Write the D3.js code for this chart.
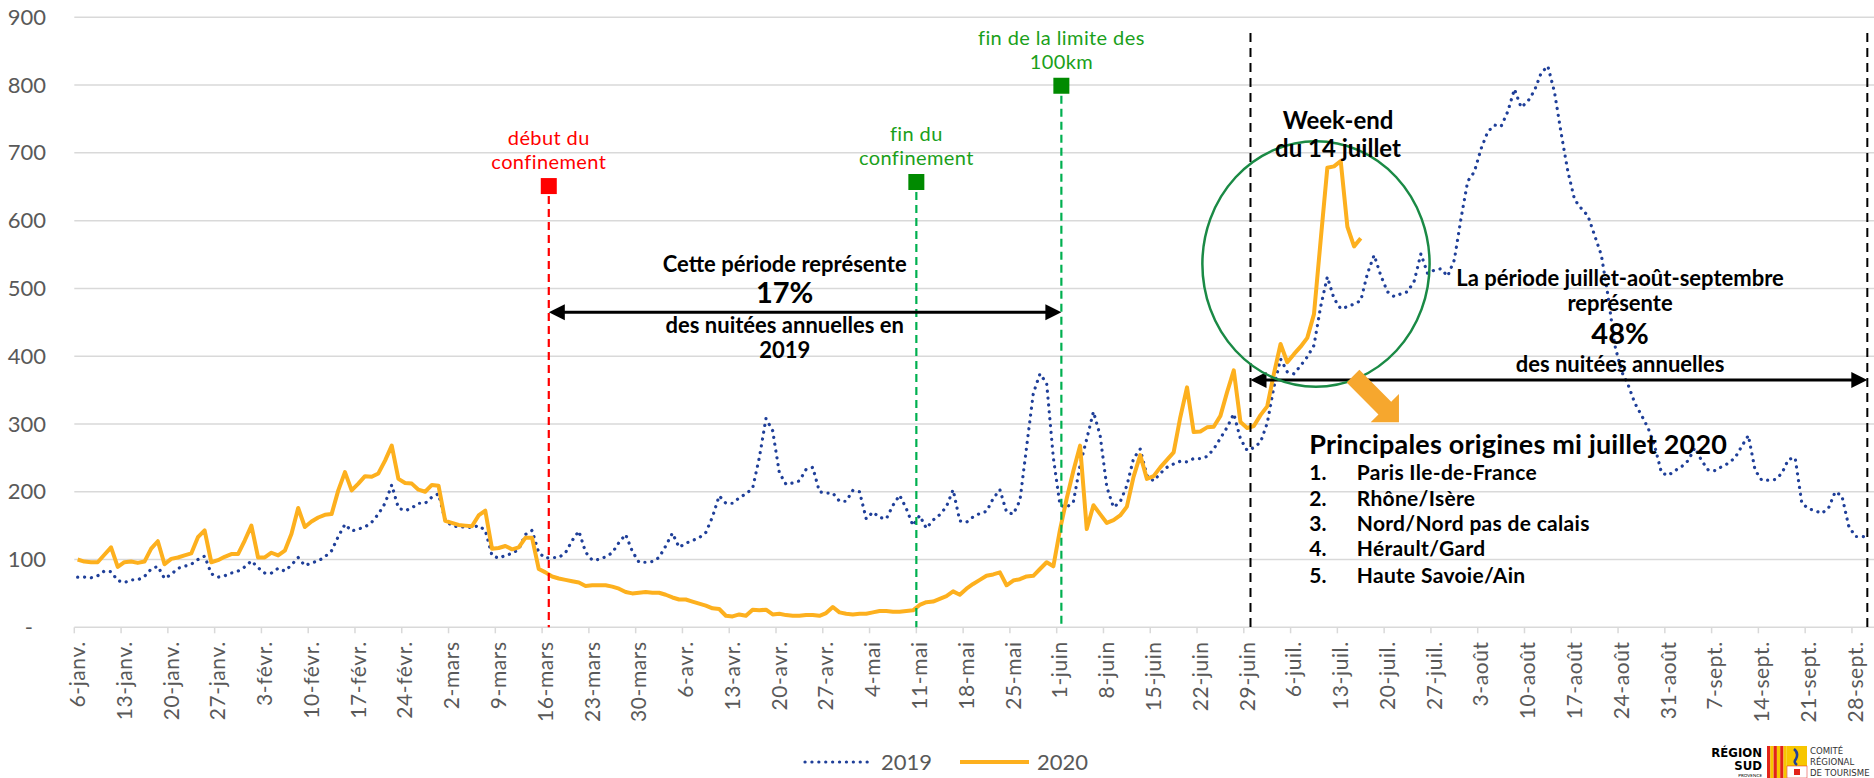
<!DOCTYPE html>
<html>
<head>
<meta charset="utf-8">
<script src="https://cdn.jsdelivr.net/npm/d3@7"></script>
<style>
  body { margin: 0; background: #fff; }
  svg text { font-family: Lato, "DejaVu Sans", sans-serif; }
</style>
</head>
<body>
<div id="graphique"></div>
<script>
// libellés hebdomadaires de l'axe des x (un tous les 7 jours, à partir du 6 janvier)
var semaines = ["6-janv.","13-janv.","20-janv.","27-janv.","3-févr.","10-févr.","17-févr.","24-févr.",
  "2-mars","9-mars","16-mars","23-mars","30-mars","6-avr.","13-avr.","20-avr.","27-avr.",
  "4-mai","11-mai","18-mai","25-mai","1-juin","8-juin","15-juin","22-juin","29-juin",
  "6-juil.","13-juil.","20-juil.","27-juil.","3-août","10-août","17-août","24-août","31-août",
  "7-sept.","14-sept.","21-sept.","28-sept."];

var graduationsY = [0, 100, 200, 300, 400, 500, 600, 700, 800, 900];

// nuitées journalières (en milliers)
var nuitees2019 = [
  74, 74, 73, 76, 83, 82, 69, 66, 70, 70,
  75, 86, 90, 72, 78, 87, 90, 93, 100, 105,
  79, 74, 76, 80, 83, 89, 98, 88, 80, 80,
  87, 83, 92, 103, 91, 95, 98, 104, 113, 134,
  152, 142, 145, 148, 155, 167, 183, 210, 176, 172,
  176, 183, 183, 192, 197, 158, 150, 148, 148, 147,
  150, 143, 106, 102, 106, 109, 115, 137, 143, 110,
  102, 103, 103, 110, 128, 142, 111, 99, 100, 104,
  110, 125, 137, 112, 96, 96, 97, 103, 120, 139,
  118, 124, 128, 132, 140, 163, 194, 183, 183, 191,
  197, 205, 250, 308, 290, 228, 211, 213, 216, 233,
  236, 200, 198, 198, 186, 186, 202, 200, 160, 170,
  162, 160, 180, 195, 175, 150, 165, 146, 158, 166,
  178, 203, 157, 155, 163, 168, 171, 190, 203, 170,
  167, 187, 266, 345, 374, 360, 250, 180, 177, 185,
  239, 278, 318, 283, 207, 177, 185, 209, 249, 263,
  224, 216, 227, 236, 241, 245, 244, 249, 249, 252,
  263, 279, 295, 315, 278, 261, 265, 273, 301, 354,
  396, 377, 374, 386, 399, 416, 473, 517, 485, 470,
  473, 477, 482, 522, 549, 519, 495, 488, 492, 495,
  511, 551, 522, 527, 529, 518, 542, 603, 658, 672,
  706, 731, 741, 739, 761, 794, 767, 776, 792, 818,
  828, 789, 728, 672, 631, 618, 607, 578, 549, 489,
  417, 378, 358, 331, 313, 294, 267, 228, 224, 231,
  237, 246, 265, 246, 232, 231, 237, 242, 250, 267,
  283, 232, 217, 217, 218, 227, 248, 250, 183, 175,
  172, 168, 176, 200, 194, 150, 134, 134, 133
];

var nuitees2020 = [
  100, 97, 96, 96, 107, 118, 89, 96, 97, 95,
  97, 116, 127, 93, 101, 103, 106, 109, 133, 143,
  96, 99, 104, 108, 108, 128, 150, 103, 103, 110,
  106, 113, 138, 176, 148, 156, 162, 166, 167, 202,
  229, 202, 212, 223, 222, 227, 246, 268, 219, 213,
  212, 203, 200, 210, 209, 157, 154, 151, 150, 149,
  165, 172, 116, 117, 120, 115, 118, 132, 132, 86,
  81, 75, 72, 70, 68, 66, 61, 62, 62, 62,
  60, 57, 52, 50, 51, 52, 51, 51, 48, 44,
  41, 41, 38, 35, 32, 28, 27, 17, 16, 19,
  17, 26, 25, 26, 19, 20, 18, 17, 17, 18,
  18, 17, 21, 30, 22, 20, 19, 20, 20, 22,
  24, 24, 23, 23, 24, 25, 33, 37, 38, 42,
  46, 53, 48, 57, 64, 70, 76, 78, 81, 62,
  69, 71, 75, 76, 86, 96, 90, 144, 190, 231,
  268, 145, 180, 167, 154, 158, 165, 178, 222, 254,
  219, 223, 236, 247, 258, 310, 354, 288, 289, 295,
  296, 312, 347, 379, 303, 294, 297, 313, 326, 374,
  418, 391, 403, 414, 427, 462, 571, 678, 680, 688,
  591, 562, 574
];

var origines = ["Paris Ile-de-France", "Rhône/Isère", "Nord/Nord pas de calais", "Hérault/Gard", "Haute Savoie/Ain"];

var width = 1874;
var height = 778;
var nbJours = nuitees2019.length;
var gris = "#595959";

var svg = d3.select("#graphique")
  .append("svg")
    .attr("width", width)
    .attr("height", height);

// echelles
var x = d3.scaleBand()
  .domain(d3.range(nbJours))
  .range([74.3, 1872]);
var y = d3.scaleLinear()
  .domain([0, 900])
  .range([627.3, 17.3]);
var bw = x.bandwidth();
// position d'un jour (fractionnaire) sur l'axe, en limite de catégorie
function xJour(j) { return x.range()[0] + j * x.step(); }

// grille horizontale
svg.append("g")
  .selectAll("line")
  .data(graduationsY.slice(1))
  .enter().append("line")
    .attr("x1", x.range()[0]).attr("x2", width)
    .attr("y1", function(d){ return y(d); })
    .attr("y2", function(d){ return y(d); })
    .attr("stroke", "#d9d9d9")
    .attr("stroke-width", 1.5);

// axe y
var gy = svg.append("g")
  .attr("transform", "translate(46,0)")
  .call(d3.axisLeft(y).tickValues(graduationsY).tickSize(0).tickPadding(0)
    .tickFormat(function(d){ return d === 0 ? "-" : d; }));
gy.select(".domain").remove();
gy.selectAll("text")
  .attr("font-size", 22)
  .attr("fill", gris)
  .style("font-family", "Lato, sans-serif");
gy.selectAll(".tick").filter(function(d){ return d === 0; }).select("text").attr("x", -13);

// axe x
svg.append("line")
  .attr("x1", x.range()[0]).attr("x2", width)
  .attr("y1", y(0)).attr("y2", y(0))
  .attr("stroke", "#d9d9d9").attr("stroke-width", 1.5);

svg.append("g")
  .selectAll("line")
  .data(d3.range(0, nbJours, 7))
  .enter().append("line")
    .attr("x1", function(d){ return xJour(d); })
    .attr("x2", function(d){ return xJour(d); })
    .attr("y1", y(0)).attr("y2", y(0) + 6)
    .attr("stroke", "#d9d9d9").attr("stroke-width", 1.5);

var gx = svg.append("g")
  .attr("transform", "translate(0," + y(0) + ")")
  .call(d3.axisBottom(x).tickValues(d3.range(0, nbJours, 7)).tickSize(0)
    .tickFormat(function(d){ return semaines[d / 7]; }));
gx.select(".domain").remove();
gx.selectAll("text")
  .attr("transform", "rotate(-90)")
  .attr("text-anchor", "end")
  .attr("x", -14).attr("y", 0).attr("dy", "0.35em")
  .attr("font-size", 21)
  .attr("fill", gris)
  .style("font-family", "Lato, sans-serif")
  .style("letter-spacing", "0.6px");

// courbes
var ligne = d3.line()
  .x(function(d, i){ return x(i) + bw / 2; })
  .y(function(d){ return y(d); });

svg.append("path")
  .datum(nuitees2019)
  .attr("d", ligne)
  .attr("fill", "none")
  .attr("stroke", "#1f3f99")
  .attr("stroke-width", 3.2)
  .attr("stroke-linecap", "round")
  .attr("stroke-dasharray", "0.1 6.8");

svg.append("path")
  .datum(nuitees2020)
  .attr("d", ligne)
  .attr("fill", "none")
  .attr("stroke", "#fdb01e")
  .attr("stroke-width", 4)
  .attr("stroke-linejoin", "round");

// repères : début / fin du confinement, fin des 100km
var reperes = [
  { jour: 71, val: 651, couleur: "#ff0000", trait: "#ff0000", texte: "#ff0000", lignes: ["début du", "confinement"] },
  { jour: 126, val: 657, couleur: "#008a00", trait: "#00b050", texte: "#1aa01a", lignes: ["fin du", "confinement"] },
  { jour: 147.7, val: 799, couleur: "#008a00", trait: "#00b050", texte: "#1aa01a", lignes: ["fin de la limite des", "100km"] }
];

reperes.forEach(function(r){
  var cx = xJour(r.jour);
  var cy = y(r.val);
  svg.append("line")
    .attr("x1", cx).attr("x2", cx)
    .attr("y1", cy + 10).attr("y2", y(0))
    .attr("stroke", r.trait)
    .attr("stroke-width", 2.2)
    .attr("stroke-dasharray", "8 5");
  svg.append("rect")
    .attr("x", cx - 8).attr("y", cy - 8)
    .attr("width", 16).attr("height", 16)
    .attr("fill", r.couleur);
  r.lignes.forEach(function(t, i){
    svg.append("text")
      .attr("x", cx).attr("y", cy - 48 + i * 24)
      .attr("dy", "0.35em")
      .attr("text-anchor", "middle")
      .attr("font-size", 20)
      .attr("fill", r.texte)
      .style("letter-spacing", "0.4px")
      .text(t);
  });
});

// lignes pointillées noires (période juillet-septembre)
[176, 268.3].forEach(function(j){
  svg.append("line")
    .attr("x1", xJour(j)).attr("x2", xJour(j))
    .attr("y1", y(877)).attr("y2", y(0))
    .attr("stroke", "#000")
    .attr("stroke-width", 2)
    .attr("stroke-dasharray", "9 6");
});

// flèches doubles
function flecheDouble(j1, j2, val){
  var x1 = xJour(j1), x2 = xJour(j2), yy = y(val);
  svg.append("line")
    .attr("x1", x1 + 14).attr("x2", x2 - 14)
    .attr("y1", yy).attr("y2", yy)
    .attr("stroke", "#000").attr("stroke-width", 3);
  svg.append("path")
    .attr("d", "M" + x1 + "," + yy + "L" + (x1 + 16) + "," + (yy - 8) + "L" + (x1 + 16) + "," + (yy + 8) + "Z")
    .attr("fill", "#000");
  svg.append("path")
    .attr("d", "M" + x2 + "," + yy + "L" + (x2 - 16) + "," + (yy - 8) + "L" + (x2 - 16) + "," + (yy + 8) + "Z")
    .attr("fill", "#000");
}
flecheDouble(71, 147.7, 465);
flecheDouble(176, 268.3, 365);

function texteGras(j, val, t, taille, ancre){
  return svg.append("text")
    .attr("x", xJour(j)).attr("y", y(val))
    .attr("dy", "0.35em")
    .attr("text-anchor", ancre || "middle")
    .attr("font-size", taille)
    .attr("font-weight", 700)
    .attr("fill", "#000")
    .text(t);
}

texteGras(106.3, 536, "Cette période représente", 22);
texteGras(106.3, 493, "17%", 29);
texteGras(106.3, 446, "des nuitées annuelles en", 22);
texteGras(106.3, 409, "2019", 22);

texteGras(231.3, 515, "La période juillet-août-septembre", 22);
texteGras(231.3, 478.5, "représente", 22);
texteGras(231.3, 433, "48%", 29);
texteGras(231.3, 388, "des nuitées annuelles", 22);

// cercle du 14 juillet
svg.append("ellipse")
  .attr("cx", xJour(185.8)).attr("cy", y(536))
  .attr("rx", xJour(17) - xJour(0))
  .attr("ry", y(0) - y(181))
  .attr("fill", "none")
  .attr("stroke", "#1a8a45")
  .attr("stroke-width", 2.5);

texteGras(189.1, 748, "Week-end", 24);
texteGras(189.1, 707, "du 14 juillet", 24);

// grosse flèche orange
svg.append("path")
  .attr("transform", "translate(" + xJour(196.1) + "," + y(323.5) + ") rotate(45)")
  .attr("d", "M-45,-9L0,-9L0,-20L20,0L0,20L0,9L-45,9Z")
  .attr("fill", "#f6a72e");

// principales origines
texteGras(184.8, 269, "Principales origines mi juillet 2020", 27, "start")
  .style("letter-spacing", "0.2px");
var rangsY = [227.6, 189.4, 152.4, 115.5, 75.7];
origines.forEach(function(o, i){
  texteGras(184.8, rangsY[i], (i + 1) + ".", 21, "start");
  texteGras(191.9, rangsY[i], o, 21, "start").style("letter-spacing", "0.3px");
});

// légende
var leg = svg.append("g").attr("transform", "translate(0,762)");
leg.append("line")
  .attr("x1", 805).attr("x2", 874).attr("y1", 0).attr("y2", 0)
  .attr("stroke", "#1f3f99").attr("stroke-width", 3.2)
  .attr("stroke-linecap", "round").attr("stroke-dasharray", "0.1 6.8");
leg.append("text")
  .attr("x", 881).attr("dy", "0.35em")
  .attr("font-size", 22).attr("fill", gris)
  .text("2019");
leg.append("line")
  .attr("x1", 960).attr("x2", 1029).attr("y1", 0).attr("y2", 0)
  .attr("stroke", "#fdb01e").attr("stroke-width", 4);
leg.append("text")
  .attr("x", 1037).attr("dy", "0.35em")
  .attr("font-size", 22).attr("fill", gris)
  .text("2020");

// logo Région Sud / CRT
var logo = svg.append("g");
var etroite = "'DejaVu Sans Condensed', 'Liberation Sans Narrow', sans-serif";
logo.append("text").attr("x", 1762).attr("y", 757).attr("text-anchor", "end")
  .attr("font-size", 13).attr("font-weight", 700)
  .style("font-family", etroite)
  .text("RÉGION");
logo.append("text").attr("x", 1762).attr("y", 770).attr("text-anchor", "end")
  .attr("font-size", 13).attr("font-weight", 700)
  .style("font-family", etroite)
  .text("SUD");
logo.append("text").attr("x", 1762).attr("y", 777).attr("text-anchor", "end")
  .attr("font-size", 4.5)
  .text("PROVENCE");
d3.range(6).forEach(function(i){
  logo.append("rect")
    .attr("x", 1767 + i * 3.3).attr("y", 746)
    .attr("width", 3.3).attr("height", 32)
    .attr("fill", i % 2 ? "#f7c600" : "#e2231a");
});
logo.append("rect").attr("x", 1787).attr("y", 746).attr("width", 20).attr("height", 20).attr("fill", "#f7c600");
logo.append("path").attr("d", "M1794,749 q5,4 2,10 q-3,3 1,6").attr("stroke", "#1f3f99").attr("stroke-width", 2.5).attr("fill", "none");
logo.append("rect").attr("x", 1787).attr("y", 766).attr("width", 20).attr("height", 12).attr("fill", "#fff").attr("stroke", "#e2231a").attr("stroke-width", 0.5);
logo.append("rect").attr("x", 1794).attr("y", 769).attr("width", 6).attr("height", 6).attr("fill", "#e2231a");
["COMITÉ", "RÉGIONAL", "DE TOURISME"].forEach(function(t, i){
  logo.append("text").attr("x", 1810).attr("y", 754 + i * 11)
    .attr("font-size", 9.5).attr("fill", "#333")
    .style("font-family", etroite)
    .text(t);
});
</script>
</body>
</html>
